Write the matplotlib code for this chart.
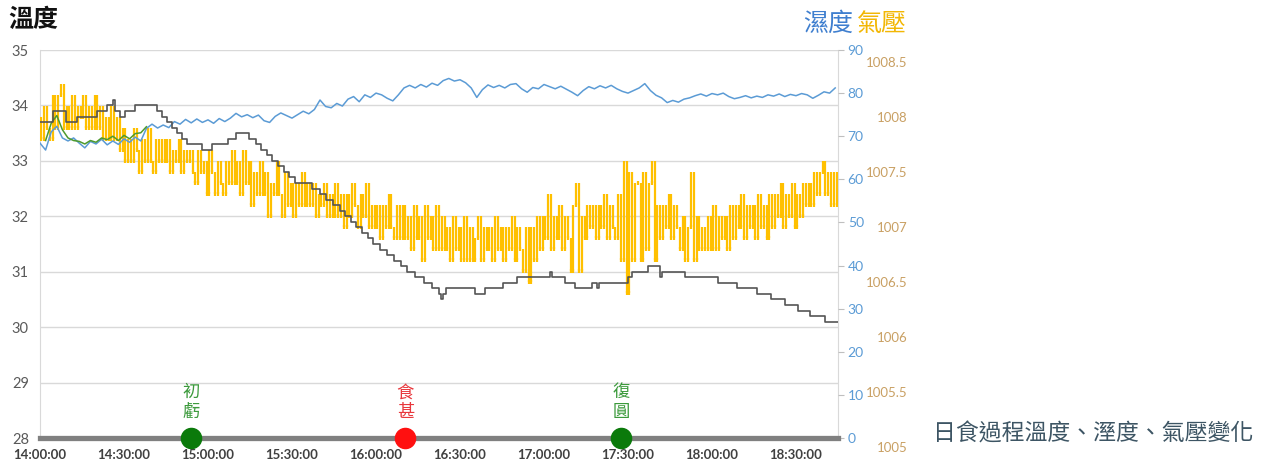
import numpy as np
import matplotlib
matplotlib.use("Agg")
import matplotlib.pyplot as plt

plt.rcParams['font.family'] = ['Lato', 'Noto Sans CJK TC', 'DejaVu Sans']
CJK = ['Noto Sans CJK TC', 'DejaVu Sans']

# time axis: minutes after 14:00:00
xtick_pos = [0, 30, 60, 90, 120, 150, 180, 210, 240, 270]
xtick_labels = ["14:00:00", "14:30:00", "15:00:00", "15:30:00", "16:00:00",
                "16:30:00", "17:00:00", "17:30:00", "18:00:00", "18:30:00"]

# temperature (deg C), step changes at these minutes
temp_t = [0, 4.6, 9.3, 13.2, 20.4, 24, 26, 26.8, 28.6, 30.4, 33.9, 41.8, 43.6, 45.4, 47.1,
          48.9, 50.7, 52.5, 58, 61.5, 67, 70, 74.5, 77, 79, 81, 83, 85, 87, 89, 91, 97,
          100, 102, 104.5, 107, 109, 111, 113, 115, 117, 119, 121.5, 124, 126.5, 129, 131,
          134, 137, 140, 142.5, 143.2, 144, 145, 155.4, 159, 165.4, 170.4, 182, 182.8,
          187.5, 191, 197, 199, 199.8, 210, 211.5, 217, 221.4, 222, 230.4, 242, 249, 256,
          261, 266, 270.7, 275, 280.4, 285]
temp_v = [33.7, 33.9, 33.7, 33.8, 33.9, 34.0, 34.1, 33.9, 33.8, 33.9, 34.0, 33.9, 33.8, 33.7,
          33.6, 33.5, 33.4, 33.3, 33.2, 33.3, 33.4, 33.5, 33.4, 33.3, 33.2, 33.1, 33.0, 32.9,
          32.8, 32.7, 32.6, 32.5, 32.4, 32.3, 32.2, 32.1, 32.0, 31.9, 31.8, 31.7, 31.6, 31.5,
          31.4, 31.3, 31.2, 31.1, 31.0, 30.9, 30.8, 30.7, 30.6, 30.5, 30.6, 30.7, 30.6, 30.7,
          30.8, 30.9, 31.0, 30.9, 30.8, 30.7, 30.8, 30.7, 30.8, 30.9, 31.0, 31.1, 30.9, 31.0,
          30.9, 30.8, 30.7, 30.6, 30.5, 30.4, 30.3, 30.2, 30.1, 30.1]

# humidity (%), every 2 minutes
humid_t = list(range(0, 285, 2))
humid_v = [68.4, 66.8, 71.0, 72.3, 69.6, 68.9, 69.6, 68.4, 67.3, 68.8,
           68.2, 69.3, 68.0, 68.9, 68.1, 69.4, 68.6, 69.8, 68.9, 71.8,
           72.8, 71.9, 72.6, 72.0, 73.4, 72.8, 73.9, 73.1, 74.0, 73.2,
           73.8, 73.0, 74.1, 73.4, 74.2, 75.3, 74.5, 75.0, 74.3, 74.9,
           73.6, 73.2, 74.6, 75.4, 74.8, 74.2, 75.0, 75.8, 75.2, 76.2,
           78.4, 76.9, 76.6, 77.6, 77.0, 78.6, 79.2, 78.0, 79.6, 79.0,
           80.0, 79.6, 78.8, 78.2, 79.6, 81.2, 81.8, 81.2, 82.0, 81.4,
           82.3, 81.8, 82.9, 83.4, 82.8, 83.1, 82.4, 81.2, 79.0, 80.8,
           81.9, 81.3, 81.8, 81.2, 82.0, 82.2, 81.0, 80.2, 81.3, 81.0,
           82.0, 81.5, 81.0, 81.6, 80.9, 80.2, 79.4, 80.6, 81.5, 81.0,
           81.7, 81.2, 81.8, 81.0, 80.4, 80.0, 80.6, 81.2, 82.2, 80.6,
           79.5, 78.9, 77.8, 78.3, 77.9, 78.6, 78.9, 79.4, 79.8, 79.3,
           79.9, 79.6, 80.0, 79.2, 78.7, 79.0, 79.4, 78.9, 79.3, 79.0,
           79.6, 79.3, 79.8, 79.2, 79.7, 79.4, 79.9, 79.6, 78.8, 79.5,
           80.3, 80.0, 81.2]

# second humidity trace (green), only at the start
green_t = list(range(2, 40, 2))
green_v = [69.0, 73.0, 74.8, 71.5, 69.6, 69.0, 68.8, 68.2, 69.0, 68.6,
           69.6, 69.2, 70.0, 69.0, 70.2, 69.4, 70.6, 70.8, 72.2]

# pressure, one reading per minute, in 0.1 hPa above 1000 hPa
pressure_x10 = [80, 78, 81, 79, 78, 82, 79, 82, 83, 79,
                81, 79, 82, 79, 81, 80, 82, 79, 81, 79, 82, 79, 81,
                78, 80, 78, 81, 78, 80, 77,
                79, 76, 78, 76, 79, 77, 75, 78, 76, 79, 76, 75, 78, 76, 78,
                76, 78, 75, 77, 76, 78, 75, 77, 76,
                77, 75, 74, 77, 75, 76, 73, 77, 75, 73, 76, 74, 73, 76,
                74, 77, 74, 76, 73, 77, 74, 76, 72,
                75, 73, 76, 73, 75, 71, 74, 73, 76, 73, 71, 75,
                72, 74, 71, 74, 72, 75, 72,
                74, 72, 74, 71, 73, 72, 74, 71, 73,
                71, 74, 71, 73, 70, 73, 71, 74, 72, 70, 73, 71, 74, 70,
                72, 70, 72, 69, 72, 70, 73, 70, 69, 72,
                69, 72, 69, 71, 68, 72, 69, 71, 67, 72, 69, 71, 68, 72,
                68, 71, 68, 70, 67, 71, 68, 70, 67, 71,
                67, 70, 67, 69, 71, 67, 70, 68, 70, 67, 71, 68, 70, 67, 70, 68, 71, 67, 70, 68,
                66, 70, 65, 70, 67, 71,
                68, 71, 69, 73, 68, 71, 69, 72, 68, 71, 69, 66,
                72, 74, 66, 71, 69, 72, 70, 72, 69, 72, 70, 73, 69, 72, 70,
                69, 73, 67, 76, 64, 75, 67, 74,
                74, 67, 75, 68, 74, 76, 67, 72, 69, 72, 70, 73, 69, 72, 70,
                68, 71, 67, 70, 75, 67, 71, 68, 70, 68, 71, 68, 72, 68, 71, 69, 71, 68,
                72, 69, 72, 70, 73, 69, 72, 70, 72, 69, 73, 70, 72, 69, 73,
                70, 73, 71, 74, 70, 73, 71, 74, 70, 73, 71,
                74, 72, 74, 72,
                75, 73, 75, 76, 73, 75,
                72, 75, 72]
pressure = 1000 + np.array(pressure_x10) / 10
press_t = np.arange(len(pressure))

pres_ticks = [1005, 1005.5, 1006, 1006.5, 1007, 1007.5, 1008, 1008.5]
pres_labels = ["1005", "1005.5", "1006", "1006.5", "1007", "1007.5", "1008", "1008.5"]

# eclipse contacts
event_t = [54, 130.5, 207.5]
event_names = ["初\n虧", "食\n甚", "復\n圓"]
event_text_colors = ["#3c9a3c", "#e8383d", "#3c9a3c"]
event_dot_colors = ["#0b7a0b", "#ff1010", "#0b7a0b"]

W, H = 1278, 468
fig = plt.figure(figsize=(W / 100, H / 100), dpi=100)


def rect(x0, ytop, x1, ybot):
    return [x0 / W, 1 - ybot / H, (x1 - x0) / W, (ybot - ytop) / H]


# base axes: grid, left labels, time labels
ax = fig.add_axes(rect(40, 50, 838, 438))
ax.set_xlim(0, 285)
ax.set_ylim(28, 35)
ax.set_yticks(range(28, 36))
ax.grid(axis='y', color='#d9d9d9', lw=1)
ax.set_xticks(xtick_pos, xtick_labels)
ax.tick_params(axis='x', length=0, pad=8, labelsize=9.5, labelcolor='#404040')
for lbl in ax.get_xticklabels():
    lbl.set_fontweight('bold')
ax.tick_params(axis='y', length=0, pad=8, labelsize=10.5, labelcolor='#595959')
for s in ['top', 'bottom']:
    ax.spines[s].set_visible(False)
for s in ['left', 'right']:
    ax.spines[s].set_color('#d9d9d9')

# pressure axes (labels sit a little lower than the others)
ax_p = fig.add_axes(rect(40, 59, 838, 447))
ax_p.patch.set_visible(False)
for s in ax_p.spines.values():
    s.set_visible(False)
ax_p.xaxis.set_visible(False)
ax_p.set_xlim(0, 285)
ax_p.set_ylim(1005, 1005 + 388 / 110)
ax_p.yaxis.tick_right()
ax_p.set_yticks(pres_ticks, pres_labels)
ax_p.tick_params(axis='y', length=0, pad=50, labelsize=9.5, labelcolor='#c9a063')
for lbl in ax_p.get_yticklabels():
    lbl.set_horizontalalignment('right')
# each jump between consecutive readings drawn as a vertical stroke
p_lo = np.minimum(pressure[:-1], pressure[1:])
p_hi = np.maximum(pressure[:-1], pressure[1:])
ax_p.vlines(press_t[1:] - 0.5, p_lo, p_hi, color='#ffc000', lw=1.6)
ax_p.vlines(press_t[1:] - 0.5, p_lo - 0.02, p_lo + 0.02, color='#ffc000', lw=1.6)

# humidity axes
ax_h = ax.twinx()
ax_h.set_ylim(0, 90)
ax_h.set_yticks(range(0, 91, 10))
ax_h.tick_params(axis='y', length=4, color='#bfbfbf', pad=3, labelsize=10, labelcolor='#5b9bd5')
for s in ax_h.spines.values():
    s.set_visible(False)
ax_h.plot(humid_t, humid_v, color='#5b9bd5', lw=1.1)
ax_h.plot(green_t, green_v, color='#4e9a2e', lw=1.1)

# temperature line, bottom bar and eclipse markers on top
ax_t = ax.twinx()
ax_t.set_ylim(28, 35)
ax_t.set_yticks([])
for s in ax_t.spines.values():
    s.set_visible(False)
ax_t.plot(temp_t, temp_v, drawstyle='steps-post', color='#555555', lw=1.2)
ax_t.axhline(28, color='#808080', lw=3.8, clip_on=False)
for t, name, tc, dc in zip(event_t, event_names, event_text_colors, event_dot_colors):
    ax_t.plot(t, 28, 'o', ms=14.5, color=dc, mec=dc, clip_on=False, zorder=5)
    ax_t.annotate(name, xy=(t, 28), xytext=(0, 12), textcoords='offset points',
                  ha='center', va='bottom', fontsize=12.5, color=tc, family=CJK,
                  linespacing=1.15)

fig.text(8 / W, 1 - 20 / H, "溫度", fontsize=18, color='#111111', family=CJK,
         ha='left', va='center', fontweight='bold')
fig.text(803 / W, 1 - 24 / H, "濕度", fontsize=18, color='#3f7fcf', family=CJK,
         ha='left', va='center')
fig.text(857 / W, 1 - 24 / H, "氣壓", fontsize=18, color='#f2b705', family=CJK,
         ha='left', va='center')
fig.text(933 / W, 1 - 434 / H, "日食過程溫度、溼度、氣壓變化", fontsize=16.5,
         color='#3d5564', family=CJK, ha='left', va='center')

fig.savefig("out.png", dpi=100)
